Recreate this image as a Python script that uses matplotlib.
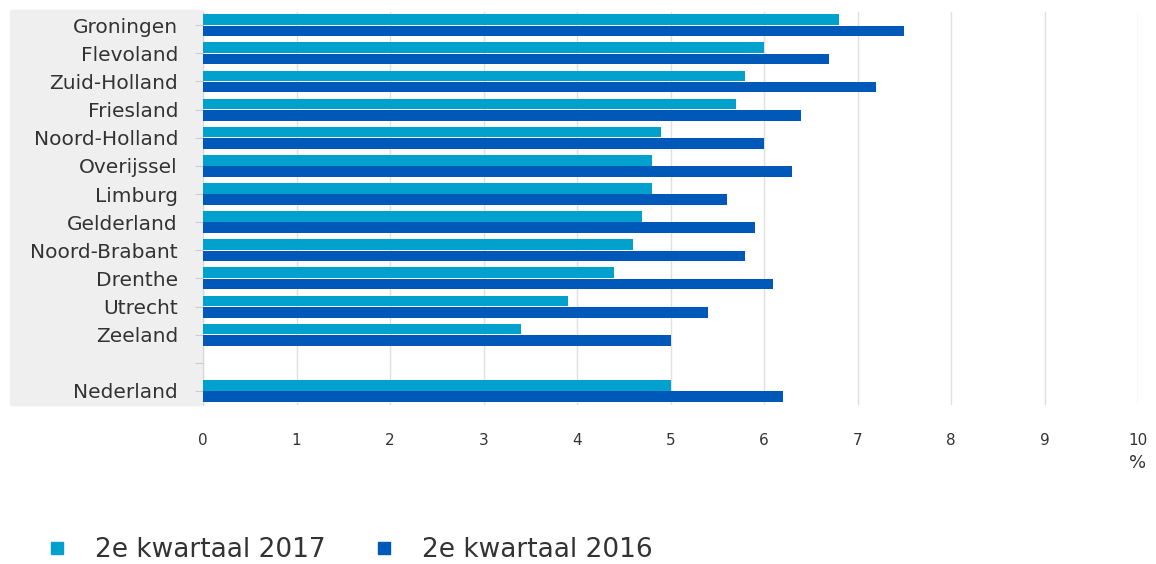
import matplotlib
matplotlib.use("Agg")
import matplotlib.pyplot as plt
from matplotlib.patches import Rectangle
from matplotlib.lines import Line2D
import numpy as np

provinces = ['Groningen', 'Flevoland', 'Zuid-Holland', 'Friesland', 'Noord-Holland',
             'Overijssel', 'Limburg', 'Gelderland', 'Noord-Brabant', 'Drenthe',
             'Utrecht', 'Zeeland', '', 'Nederland']
q2_2017 = [6.8, 6.0, 5.8, 5.7, 4.9, 4.8, 4.8, 4.7, 4.6, 4.4, 3.9, 3.4, np.nan, 5.0]
q2_2016 = [7.5, 6.7, 7.2, 6.4, 6.0, 6.3, 5.6, 5.9, 5.8, 6.1, 5.4, 5.0, np.nan, 6.2]
xticks = [0, 1, 2, 3, 4, 5, 6, 7, 8, 9, 10]

light = '#00a1cd'
dark = '#0058b8'
txt = '#333333'

fig = plt.figure(figsize=(11.56, 5.64), dpi=100)
ax = fig.add_axes([203/1156, 1 - 405/564, (1138 - 203)/1156, (405 - 12)/564])

# grey band behind the category labels
fig.patches.append(Rectangle((10/1156, 1 - 405/564), (203 - 10)/1156, (405 - 10)/564,
                             transform=fig.transFigure, color='#efefef', zorder=-1))

y = np.arange(len(provinces))
ax.barh(y - 0.2, q2_2017, height=0.38, color=light, zorder=3)
ax.barh(y + 0.2, q2_2016, height=0.38, color=dark, zorder=3)

ax.set_xlim(0, 10)
ax.set_ylim(13.5, -0.47)
ax.set_yticks(y)
ax.set_yticklabels(provinces, fontsize=14.5, color=txt)
ax.set_xticks(xticks)
ax.set_xticklabels([str(t) for t in xticks], fontsize=11, color=txt)
ax.tick_params(axis='x', length=0, pad=20)
ax.tick_params(axis='y', length=6, color='#cccccc', pad=12)
ax.grid(axis='x', color='#e0e0e0', linewidth=1, zorder=0)
for s in ['top', 'right', 'bottom']:
    ax.spines[s].set_visible(False)
ax.spines['left'].set_color('#d0d8e0')
ax.set_facecolor('none')

fig.text(1138/1156, 1 - 463/564, '%', ha='center', va='center', fontsize=13, color=txt)

handles = [Line2D([], [], marker='s', linestyle='none', markersize=9, color=light),
           Line2D([], [], marker='s', linestyle='none', markersize=9, color=dark)]
fig.legend(handles, ['2e kwartaal 2017', '2e kwartaal 2016'], loc='center left',
           bbox_to_anchor=(0.006, 1 - 550/564), ncol=2, frameon=False, fontsize=19,
           handletextpad=0.44, columnspacing=1.2, labelcolor=txt)

fig.savefig('out.png', dpi=100)
